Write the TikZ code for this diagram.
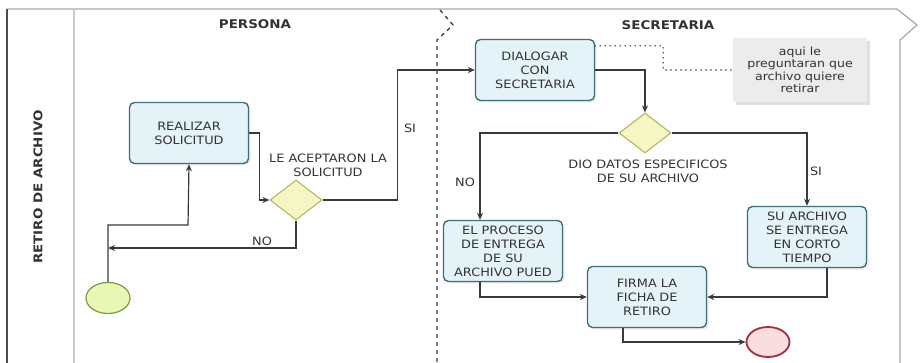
\documentclass[tikz,border=0pt]{standalone}
\usepackage{fontspec}
\setmainfont{DejaVu Sans}[FakeStretch=1.12]
\usetikzlibrary{shapes.geometric,arrows.meta,shadows}
\definecolor{taskborder}{HTML}{3E6F7C}
\definecolor{taskfill}{HTML}{E4F3F8}
\definecolor{gateborder}{HTML}{B9B86A}
\definecolor{gatefill}{HTML}{F6F6C4}
\definecolor{startborder}{HTML}{7E9A45}
\definecolor{startfill}{HTML}{E8F7B4}
\definecolor{endborder}{HTML}{A0303A}
\definecolor{endfill}{HTML}{F8DEDE}
\definecolor{flowc}{HTML}{3A3A3A}
\definecolor{textc}{HTML}{333333}
\definecolor{lanec}{HTML}{A8A8A8}
\definecolor{notefill}{HTML}{ECECEC}
\begin{document}
\begin{tikzpicture}[x=1pt,y=-1pt,
  font=\fontsize{11.5}{14}\selectfont,
  task/.style={draw=taskborder, line width=1.4pt, rounded corners=5pt, fill=taskfill,
    minimum width=119pt, minimum height=61pt, align=center, inner sep=1pt, text=textc,
    drop shadow={shadow xshift=2pt, shadow yshift=-2pt, opacity=0.15}},
  gate/.style={diamond, draw=gateborder, line width=1.2pt, fill=gatefill,
    minimum width=52pt, minimum height=40pt, inner sep=0pt},
  startev/.style={ellipse, draw=startborder, line width=1.2pt, fill=startfill,
    minimum width=44pt, minimum height=31pt, inner sep=0pt},
  endev/.style={ellipse, draw=endborder, line width=1.8pt, fill=endfill,
    minimum width=43pt, minimum height=30pt, inner sep=0pt},
  notebox/.style={fill=notefill, minimum width=134pt, minimum height=64pt, align=center,
    inner sep=1pt, text=textc, font=\fontsize{11.2}{12.5}\selectfont,
    drop shadow={shadow xshift=3pt, shadow yshift=-3pt, opacity=0.25}},
  flow/.style={draw=flowc, line width=1.2pt, -{Stealth[length=7pt,width=6pt]}},
  assoc/.style={draw=flowc, line width=1.6pt, line cap=round, dash pattern=on 0pt off 5pt},
  lbl/.style={text=textc, align=center, inner sep=0pt},
  lanetitle/.style={font=\bfseries\fontsize{12}{14}\selectfont, text=textc, inner sep=0pt},
]
\useasboundingbox (0,0) rectangle (920,363);
% pool frame
\draw[lanec, line width=1.2pt] (7,9) -- (897,9) -- (917,25) -- (900,40) -- (900,363);
\draw[black!70, line width=1.8pt] (7,9) -- (7,363);
\draw[lanec!60, line width=1.2pt] (74,9) -- (74,363);
\draw[flowc, line width=1.3pt, dash pattern=on 4pt off 4pt] (440,10) -- (453,25) -- (437,40) -- (437,363);
\node[lanetitle, rotate=90] (pool) at (38,187) {RETIRO DE ARCHIVO};
\node[lanetitle] (persona) at (255,24) {PERSONA};
\node[lanetitle] (secretaria) at (668,25) {SECRETARIA};

% nodes
\node[task] (real) at (189,133) {REALIZAR\\SOLICITUD};
\node[gate] (g1) at (296,200) {};
\node[startev] (start) at (108,298) {};
\node[task] (dial) at (535,70) {DIALOGAR\\CON\\SECRETARIA};
\node[notebox] (note) at (800,70) {aqui le\\preguntaran que\\archivo quiere\\retirar};
\node[gate] (g2) at (645,133) {};
\node[task] (proc) at (503,251) {EL PROCESO\\DE ENTREGA\\DE SU\\ARCHIVO PUED};
\node[task] (suarch) at (807,237) {SU ARCHIVO\\SE ENTREGA\\EN CORTO\\TIEMPO};
\node[task] (firma) at (647,297) {FIRMA LA\\FICHA DE\\RETIRO};
\node[endev] (fin) at (768,342) {};

% labels
\node[lbl] (l1) at (328,165) {LE ACEPTARON LA\\SOLICITUD};
\node[lbl] (l2) at (410,128) {SI};
\node[lbl] (l3) at (262,241) {NO};
\node[lbl] (l4) at (648,171) {DIO DATOS ESPECIFICOS\\DE SU ARCHIVO};
\node[lbl] (l5) at (465,182) {NO};
\node[lbl] (l6) at (816,171) {SI};

% connectors
\coordinate (j1) at (188,225);
\coordinate (j2) at (108,248);
\draw[flow] (start.north) |- (j1) -- (real.south);
\draw[flow] (real.east) -- ++(10,0) |- (g1.west);
\draw[flow] (g1.east) -- ++(75,0) |- (dial.west);
\draw[flow] (g1.south) |- (j2);
\draw[flow] (dial.east) -| (g2.north);
\draw[assoc] ([yshift=-7pt]dial.north east) -- ++(68,0) |- (note.west);
\draw[flow] (g2.west) -| ([xshift=-23pt]proc.north);
\draw[flow] (g2.east) -| (suarch.north);
\draw[flow] ([xshift=-23pt]proc.south) |- (firma.west);
\draw[flow] ([xshift=20pt]suarch.south) |- (firma.east);
\draw[flow] ([xshift=-24pt]firma.south) |- (fin.west);
\end{tikzpicture}
\end{document}
